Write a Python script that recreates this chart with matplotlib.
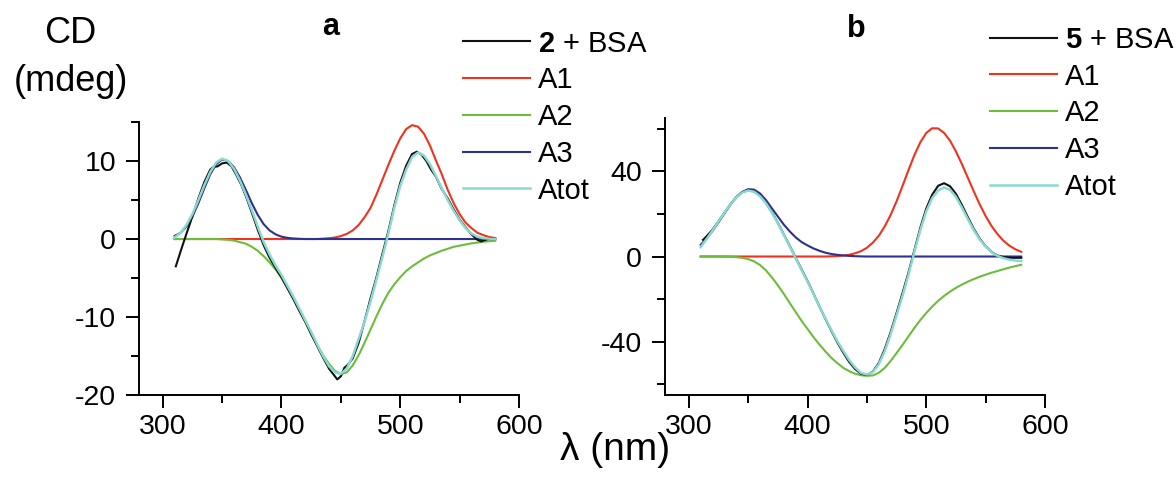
import matplotlib
matplotlib.use("Agg")
import matplotlib.pyplot as plt
from matplotlib.ticker import MultipleLocator

plt.rcParams['font.family'] = ['Liberation Sans', 'DejaVu Sans']
plt.rcParams['mathtext.fontset'] = 'custom'
plt.rcParams['mathtext.bf'] = 'Liberation Sans:bold'
plt.rcParams['mathtext.rm'] = 'Liberation Sans'
plt.rcParams['axes.unicode_minus'] = False

# wavelength grid of the fitted curves (nm)
wl = list(range(310, 585, 5))

# ---- panel a : 2 + BSA ----
a_wl_exp = [311, 315, 320, 325, 330, 335, 340, 343, 346, 350, 354, 358, 362, 366, 370,
            375, 380, 385, 390, 395, 400, 405, 410, 415, 420, 425, 430, 435, 440,
            444, 447, 450, 453, 456, 460, 465, 470, 475, 480, 485, 490, 495, 500,
            505, 510, 514, 518, 522, 526, 530, 535, 540, 545, 550, 555, 560, 565,
            568, 572, 576, 580]
a_exp = [-3.5, -1.6, 0.7, 2.9, 5.2, 7.3, 8.9, 9.3, 9.3, 9.7, 9.8, 9.3, 8.2, 7.0, 5.5,
         3.4, 1.2, -0.8, -2.4, -3.7, -4.9, -6.3, -7.7, -9.2, -10.6, -12.2, -13.7, -15.2, -16.6,
         -17.4, -18.0, -17.6, -16.5, -16.1, -15.3, -13.3, -10.5, -7.6, -4.9, -1.9, 1.0, 4.3, 7.2,
         9.4, 10.9, 11.2, 10.8, 10.0, 8.9, 8.0, 6.4, 5.2, 3.8, 2.5, 1.5, 0.6, -0.1,
         -0.3, -0.1, 0.1, 0.0]
a_A1 = [0, 0, 0, 0, 0, 0, 0, 0, 0, 0, 0, 0, 0, 0, 0,
        0, 0, 0, 0, 0, 0, 0, 0, 0, 0, 0.05, 0.1, 0.2, 0.37, 0.66,
        1.1, 1.8, 2.8, 4.0, 5.7, 7.6, 9.5, 11.3, 12.9, 14.1, 14.6, 14.4, 13.5,
        12.0, 10.1, 8.3, 6.3, 4.6, 3.2, 2.1, 1.4, 0.8, 0.5, 0.25, 0.13]
a_A2 = [0, 0, 0, 0, 0, 0, 0, 0, -0.05, -0.1, -0.2, -0.4, -0.6, -1.0, -1.5,
        -2.2, -3.0, -3.9, -5.0, -6.3, -7.6, -9.1, -10.6, -12.1, -13.6, -14.9, -16.0, -16.9,
        -17.3, -17.1, -16.2, -14.9, -13.3, -11.6, -9.9, -8.3, -6.9, -5.8, -4.9, -4.1, -3.5,
        -3.0, -2.5, -2.1, -1.8, -1.5, -1.25, -1.0, -0.85, -0.7, -0.55, -0.45, -0.35, -0.28, -0.22]
a_A3 = [0.4, 0.8, 1.6, 2.9, 4.6, 6.5, 8.3, 9.6, 10.2, 10.0, 9.2, 7.9, 6.3, 4.6, 3.1,
        1.9, 1.1, 0.6, 0.3, 0.15, 0.07, 0.03, 0, 0, 0, 0, 0, 0, 0, 0,
        0, 0, 0, 0, 0, 0, 0, 0, 0, 0, 0, 0, 0, 0, 0, 0, 0, 0, 0, 0, 0, 0, 0, 0, 0]
a_Atot = [0.2, 0.8, 1.8, 3.2, 5.0, 6.9, 8.6, 9.8, 10.3, 10.0, 9.0, 7.5, 5.7, 3.7, 1.6,
          -0.4, -2.0, -3.4, -4.6, -6.0, -7.4, -8.9, -10.4, -11.9, -13.5, -15.0, -16.3, -17.1,
          -17.3, -16.6, -15.0, -12.8, -10.6, -8.0, -5.2, -2.3, 0.7, 4.0, 6.8, 8.9, 10.5,
          11.1, 10.7, 9.6, 8.1, 6.5, 5.0, 3.6, 2.4, 1.4, 0.7, 0.3, 0.1, 0.05, 0.0]

# ---- panel b : 5 + BSA ----
b_wl_exp = [312] + wl[1:]
b_exp = [7.8, 9.5, 12.6, 16.5, 20.5, 24.4, 27.8, 30.2, 31.2, 30.6, 28.5, 25.2, 20.8, 15.8,
         10.4, 5.0, -0.6, -6.0, -11.5, -17.4, -23.4, -29.2, -34.8, -40.2, -45.0, -49.4,
         -52.8, -55.0, -55.6, -54.0, -50.0, -43.5, -35.5, -26.5, -17.2, -7.6, 3.0, 13.5,
         22.5, 29.0, 33.2, 34.4, 33.0, 29.4, 24.2, 18.5, 13.0, 8.4, 4.8, 2.1, 0.5, -0.3,
         -0.6, -0.6, -0.6]
b_A1 = [0, 0, 0, 0, 0, 0, 0, 0, 0, 0, 0, 0, 0, 0, 0, 0, 0, 0, 0, 0, 0, 0, 0.1, 0.2, 0.45,
        0.8, 1.5, 2.5, 4.1, 6.5, 9.7, 14.1, 19.5, 25.9, 33.1, 40.5, 47.6, 53.6, 58.0,
        60.2, 60.1, 58.0, 54.4, 49.3, 43.4, 37.0, 30.6, 24.5, 19.0, 14.3, 10.5, 7.4,
        5.1, 3.4, 2.2]
b_A2 = [0, 0, 0, 0, 0, -0.1, -0.3, -0.6, -1.2, -2.3, -4.0, -6.5, -9.8, -13.5, -17.5,
        -21.8, -26.0, -30.2, -34.0, -37.8, -41.3, -44.5, -47.5, -50.0, -52.2, -53.8, -55.0,
        -55.7, -56.0, -55.8, -54.6, -52.3, -49.0, -45.3, -41.5, -37.5, -33.5, -29.8, -26.5,
        -23.5, -20.8, -18.5, -16.5, -14.7, -13.2, -11.8, -10.6, -9.5, -8.5, -7.6, -6.8,
        -6.0, -5.2, -4.5, -3.9]
b_A3 = [5.5, 8.4, 12.0, 16.0, 20.2, 24.3, 27.8, 30.3, 31.6, 31.4, 29.6, 26.5, 22.6, 18.8,
        15.0, 11.8, 9.0, 6.8, 5.2, 3.8, 2.7, 1.8, 1.2, 0.8, 0.5, 0.3, 0.15, 0.05, 0, 0, 0,
        0, 0, 0, 0, 0, 0, 0, 0, 0, 0, 0, 0, 0, 0, 0, 0, 0, 0, 0, 0, 0, 0, 0, 0]
b_Atot = [4.4, 8.2, 12.2, 16.4, 20.5, 24.4, 27.7, 30.0, 31.0, 30.4, 28.3, 25.0, 20.6, 15.6,
          10.2, 4.8, -0.8, -6.3, -11.8, -17.6, -23.4, -29.0, -34.4, -39.6, -44.2, -48.5,
          -52.0, -54.6, -55.4, -54.2, -50.6, -44.5, -36.5, -27.5, -18.5, -8.6, 2.2, 12.4,
          21.2, 27.4, 31.0, 32.4, 31.3, 28.0, 23.0, 17.6, 12.4, 8.0, 4.6, 2.0, 0.3, -0.8,
          -1.5, -1.9, -2.1]

colors = {'exp': '#111111', 'A1': '#f0321e', 'A2': '#6cbd3c', 'A3': '#2d3190', 'Atot': '#8ad9d0'}

fig = plt.figure(figsize=(11.76, 4.78), dpi=100)
ax1 = fig.add_axes([0.1182, 0.1736, 0.3231, 0.5711])
ax2 = fig.add_axes([0.5655, 0.1736, 0.3231, 0.5795])


def draw(ax, wl_exp, exp, A1, A2, A3, Atot, label):
    lw = 1.5
    ax.plot(wl_exp, exp, color=colors['exp'], lw=lw, label=label, zorder=3)
    ax.plot(wl, A1, color=colors['A1'], lw=lw, label='A1', zorder=2)
    ax.plot(wl, A2, color=colors['A2'], lw=lw, label='A2', zorder=2)
    ax.plot(wl, A3, color=colors['A3'], lw=lw, label='A3', zorder=2)
    ax.plot(wl, Atot, color=colors['Atot'], lw=lw + 0.3, label='Atot', zorder=4)
    ax.set_xlim(280, 600)
    ax.xaxis.set_major_locator(MultipleLocator(100))
    ax.xaxis.set_minor_locator(MultipleLocator(50))
    for s in ['top', 'right']:
        ax.spines[s].set_visible(False)
    for s in ['left', 'bottom']:
        ax.spines[s].set_linewidth(1.4)
    ax.tick_params(which='major', direction='out', length=9.5, width=1.4, labelsize=20.5)
    ax.tick_params(which='minor', direction='out', length=6, width=1.4)
    ax.tick_params(axis='x', which='major', pad=4)
    ax.tick_params(axis='y', which='major', pad=7)


draw(ax1, a_wl_exp, a_exp, a_A1, a_A2, a_A3, a_Atot, r'$\mathbf{2}$ + BSA')
ax1.set_ylim(-20, 15)
ax1.yaxis.set_major_locator(MultipleLocator(10))
ax1.yaxis.set_minor_locator(MultipleLocator(5))

draw(ax2, b_wl_exp, b_exp, b_A1, b_A2, b_A3, b_Atot, r'$\mathbf{5}$ + BSA')
ax2.set_ylim(-65, 65)
ax2.yaxis.set_major_locator(MultipleLocator(40))
ax2.yaxis.set_minor_locator(MultipleLocator(20))

leg_kw = dict(loc='upper left', frameon=False, fontsize=21, borderpad=0,
              borderaxespad=0, handlelength=2.3, handletextpad=0.28,
              labelspacing=0.3, bbox_transform=fig.transFigure)
ax1.legend(bbox_to_anchor=(0.3937, 0.938), **leg_kw)
ax2.legend(bbox_to_anchor=(0.8418, 0.946), **leg_kw)

fig.text(0.281, 0.944, 'a', fontsize=22, fontweight='bold', ha='center', va='center')
fig.text(0.728, 0.94, 'b', fontsize=22, fontweight='bold', ha='center', va='center')
fig.text(0.060, 0.93, 'CD', fontsize=26, ha='center', va='center')
fig.text(0.060, 0.83, '(mdeg)', fontsize=26, ha='center', va='center')
fig.text(0.523, 0.058, 'λ (nm)', fontsize=28, ha='center', va='center')

fig.savefig('out.png', dpi=100)
